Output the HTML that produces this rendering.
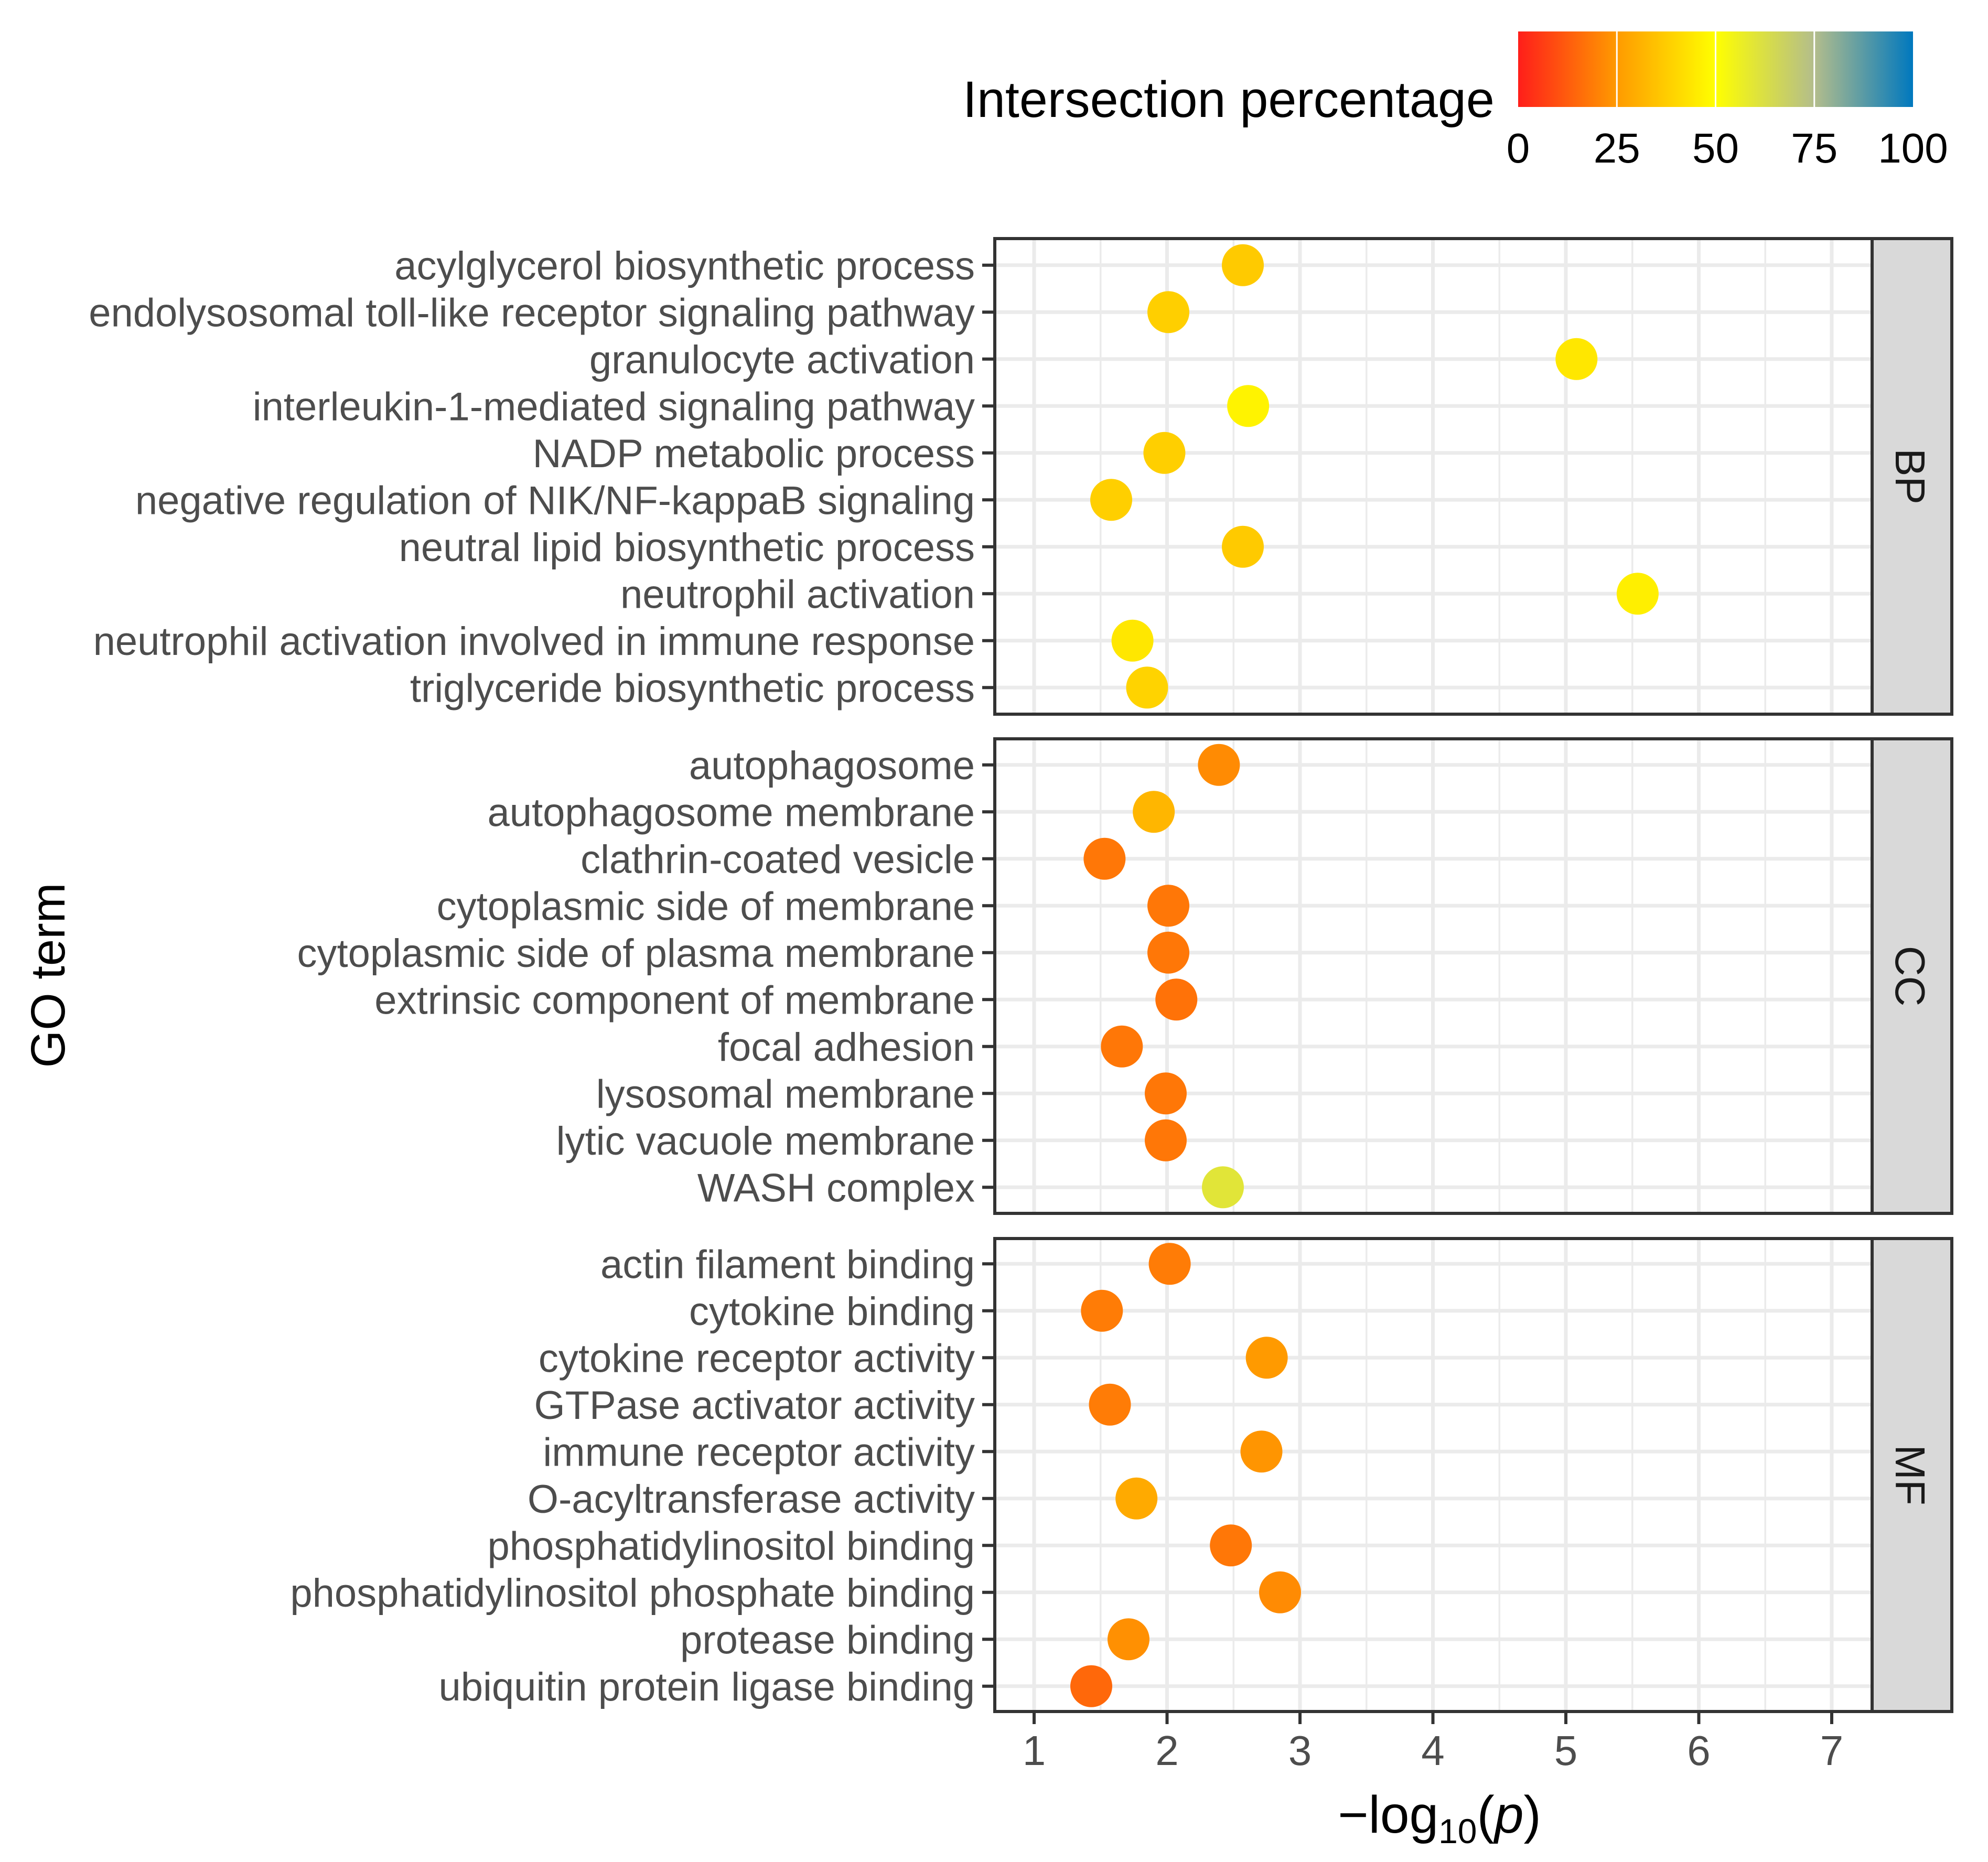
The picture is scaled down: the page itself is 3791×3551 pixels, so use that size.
<!DOCTYPE html>
<html><head><meta charset="utf-8"><style>
html,body{margin:0;padding:0;background:#fff;}
svg{display:block;}
text{font-family:"Liberation Sans",Arial,sans-serif;}
</style></head><body>
<svg id="chart" xmlns="http://www.w3.org/2000/svg" width="3791" height="3551" viewBox="0 0 3791 3551">
<defs>
<linearGradient id="cgrad" x1="0" x2="1" y1="0" y2="0">
<stop offset="0" stop-color="#FF1E1A"/><stop offset="0.25" stop-color="#FF9A00"/><stop offset="0.5" stop-color="#FFFF00"/><stop offset="0.75" stop-color="#B3BD8C"/><stop offset="1" stop-color="#0078BE"/>
</linearGradient>
</defs>
<g id="root"></g>
</svg>
<script>
const panels = ["BP","CC","MF"];
const termsBP = ["acylglycerol biosynthetic process","endolysosomal toll-like receptor signaling pathway","granulocyte activation","interleukin-1-mediated signaling pathway","NADP metabolic process","negative regulation of NIK/NF-kappaB signaling","neutral lipid biosynthetic process","neutrophil activation","neutrophil activation involved in immune response","triglyceride biosynthetic process"];
const termsCC = ["autophagosome","autophagosome membrane","clathrin-coated vesicle","cytoplasmic side of membrane","cytoplasmic side of plasma membrane","extrinsic component of membrane","focal adhesion","lysosomal membrane","lytic vacuole membrane","WASH complex"];
const termsMF = ["actin filament binding","cytokine binding","cytokine receptor activity","GTPase activator activity","immune receptor activity","O-acyltransferase activity","phosphatidylinositol binding","phosphatidylinositol phosphate binding","protease binding","ubiquitin protein ligase binding"];
const logpBP = [2.57,2.01,5.08,2.61,1.98,1.58,2.57,5.54,1.74,1.85];
const logpCC = [2.39,1.90,1.53,2.01,2.01,2.07,1.66,1.99,1.99,2.42];
const logpMF = [2.02,1.51,2.75,1.57,2.71,1.77,2.48,2.85,1.71,1.43];
const pctBP = [37,38,44,47,38,38,37,46,44,39];
const pctCC = [22,32,18,18,18,17,18,18,18,60];
const pctMF = [19,19,25,19,24,29,18,22,23,15];
const xTicks = [1,2,3,4,5,6,7];
const legendTicks = [0,25,50,75,100];

const NS="http://www.w3.org/2000/svg";
const root=document.getElementById('root');
function mk(tag,attrs,parent){const e=document.createElementNS(NS,tag);for(const k in attrs)e.setAttribute(k,attrs[k]);(parent||root).appendChild(e);return e;}

const PL=1897, PR=3570, STRIPR=3722;
const X0=1972, XU=253.5;
function xs(v){return X0+(v-1)*XU;}
const panelBox=[[455,1362],[1409,2314],[2362,3264]];
const SP=89.5;
function ys(p,i){const c=(panelBox[p][0]+panelBox[p][1])/2;return c+(i-4.5)*SP;}

const stops=[[0,[255,30,26]],[25,[255,154,0]],[50,[255,255,0]],[75,[179,189,140]],[100,[0,120,190]]];
function col(v){for(let i=0;i<stops.length-1;i++){const a=stops[i],b=stops[i+1];if(v<=b[0]){const t=(v-a[0])/(b[0]-a[0]);const c=a[1].map((x,j)=>Math.round(x+(b[1][j]-x)*t));return `rgb(${c[0]},${c[1]},${c[2]})`;}}return 'rgb(0,120,190)';}

const terms=[termsBP,termsCC,termsMF], logps=[logpBP,logpCC,logpMF], pcts=[pctBP,pctCC,pctMF];

panels.forEach((pn,p)=>{
  const [t,b]=panelBox[p];
  const g=mk('g',{});
  
  
  const bg=mk('rect',{x:PL,y:t,width:PR-PL,height:b-t,fill:'#fff'},g);
  
  
  for(let v=0.5;v<=7.5;v+=1){const x=xs(v);if(x<=PL||x>=PR)continue;
    const l=mk('line',{x1:x,x2:x,y1:t,y2:b,stroke:'#EBEBEB','stroke-width':3.5},g);
    
    }
  xTicks.forEach(v=>{const x=xs(v);
    const l=mk('line',{x1:x,x2:x,y1:t,y2:b,stroke:'#EBEBEB','stroke-width':7},g);
    
    });
  terms[p].forEach((term,i)=>{const y=ys(p,i);
    const l=mk('line',{x1:PL,x2:PR,y1:y,y2:y,stroke:'#EBEBEB','stroke-width':7},g);
    
    
    const tk=mk('line',{x1:PL-24,x2:PL,y1:y,y2:y,stroke:'#333','stroke-width':6},g);
    
    
    const tx=mk('text',{x:PL-38,y:y+27,'text-anchor':'end','font-size':76,fill:'#4D4D4D'},g);
    tx.textContent=term;
    
    
  });
  terms[p].forEach((term,i)=>{
    const c=mk('circle',{cx:xs(logps[p][i]),cy:ys(p,i),r:40,fill:col(pcts[p][i])},g);
    
    
  });
  const br=mk('rect',{x:PL,y:t,width:PR-PL,height:b-t,fill:'none',stroke:'#333','stroke-width':6},g);
  
  
  const st=mk('rect',{x:PR,y:t,width:STRIPR-PR,height:b-t,fill:'#D9D9D9',stroke:'#333','stroke-width':6},g);
  
  
  const cy=(t+b)/2;
  const sl=mk('text',{x:3615,y:cy,'text-anchor':'middle','font-size':80,fill:'#1A1A1A',transform:`rotate(90 3615 ${cy})`},g);
  sl.textContent=pn;
  
  
});

const lastB=panelBox[2][1];
xTicks.forEach(v=>{const x=xs(v);
  const tk=mk('line',{x1:x,x2:x,y1:lastB,y2:lastB+24,stroke:'#333','stroke-width':6});
  
  
  const tx=mk('text',{x:x,y:3366,'text-anchor':'middle','font-size':80,fill:'#4D4D4D'});
  tx.textContent=v;
  
  
});
const xt=mk('text',{x:2745,y:3495,'text-anchor':'middle','font-size':100,fill:'#000'});
xt.innerHTML='\u2212log<tspan font-size="66" dy="20">10</tspan><tspan dy="-20">(</tspan><tspan font-style="italic">p</tspan>)';



const yt=mk('text',{x:123,y:1860,'text-anchor':'middle','font-size':92,fill:'#000',transform:'rotate(-90 123 1860)'});
yt.textContent='GO term';



const LX0=2895, LX1=3648;
const lg=mk('g',{});


const lt=mk('text',{x:1836,y:223,'font-size':97,fill:'#000'},lg);
lt.textContent='Intersection percentage';


const bar=mk('rect',{x:LX0,y:60,width:LX1-LX0,height:144,fill:'url(#cgrad)'},lg);


legendTicks.forEach(v=>{const x=LX0+(LX1-LX0)*v/100;
  if(v>0&&v<100){const l=mk('line',{x1:x,x2:x,y1:60,y2:204,stroke:'#fff','stroke-width':3},lg);
    
    }
  const tx=mk('text',{x:x,y:310,'text-anchor':'middle','font-size':80,fill:'#000'},lg);
  tx.textContent=v;
  
  
});
</script>
</body></html>
